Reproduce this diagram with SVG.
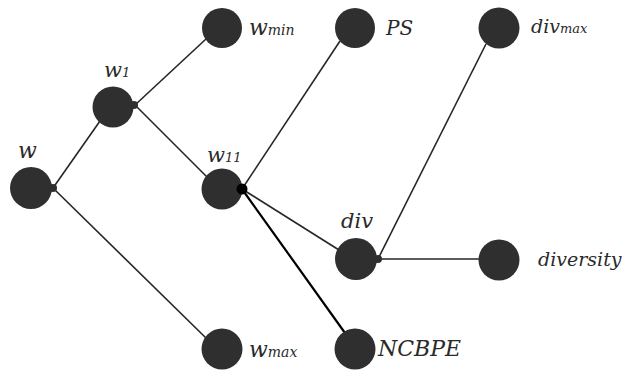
<svg xmlns="http://www.w3.org/2000/svg" width="634" height="371" viewBox="0 0 634 371">
  <style>
    .node { fill: #2f2f2f; }
    .port { fill: #2f2f2f; }
    .edge { stroke: #262626; stroke-width: 1.6; fill: none; }
    .edge.strong { stroke: #000; stroke-width: 2.2; }
    .lbl { font-family: "DejaVu Serif", "Liberation Serif", serif; font-style: italic; fill: #2a2a2a; }
  </style>
  <rect width="634" height="371" fill="#fff"/>

  <g id="connectors">
    <line class="edge" x1="53" y1="188" x2="100" y2="121"/>
    <line class="edge" x1="53" y1="188" x2="206" y2="338"/>
    <line class="edge" x1="135" y1="105" x2="206" y2="39"/>
    <line class="edge" x1="135" y1="105" x2="207" y2="177"/>
    <line class="edge" x1="242" y1="189" x2="340" y2="41"/>
    <line class="edge" x1="242" y1="189" x2="339" y2="250"/>
    <line class="edge strong" x1="242" y1="189" x2="345" y2="333"/>
    <line class="edge" x1="378" y1="259" x2="486" y2="44"/>
    <line class="edge" x1="378" y1="259" x2="480" y2="259"/>
  </g>

  <g id="node-w">
    <circle class="node" cx="31" cy="188" r="21"/>
    <circle class="port" cx="53" cy="188" r="4"/>
    <text class="lbl" x="18" y="158" font-size="22">w</text>
  </g>
  <g id="node-w1">
    <circle class="node" cx="113" cy="107" r="20.5"/>
    <circle class="port" cx="134" cy="105" r="4"/>
    <text class="lbl" x="104" y="77" font-size="21">w<tspan font-size="13">1</tspan></text>
  </g>
  <g id="node-wmin">
    <circle class="node" cx="222" cy="28" r="20"/>
    <text class="lbl" x="249" y="35" font-size="22">w<tspan font-size="14">min</tspan></text>
  </g>
  <g id="node-w11">
    <circle class="node" cx="222" cy="189" r="20.5"/>
    <circle cx="242" cy="189" r="5.5" fill="#000"/>
    <text class="lbl" x="207" y="162" font-size="21">w<tspan font-size="13">11</tspan></text>
  </g>
  <g id="node-wmax">
    <circle class="node" cx="222" cy="349" r="20.5"/>
    <text class="lbl" x="249" y="357" font-size="22">w<tspan font-size="14">max</tspan></text>
  </g>
  <g id="node-PS">
    <circle class="node" cx="355" cy="28" r="20"/>
    <text class="lbl" x="386" y="35" font-size="20">PS</text>
  </g>
  <g id="node-div">
    <circle class="node" cx="356" cy="259" r="21"/>
    <circle class="port" cx="378" cy="259" r="4"/>
    <text class="lbl" x="341" y="228" font-size="21">div</text>
  </g>
  <g id="node-NCBPE">
    <circle class="node" cx="355" cy="349" r="20.5"/>
    <text class="lbl" x="378" y="356" font-size="22">NCBPE</text>
  </g>
  <g id="node-divmax">
    <circle class="node" cx="499" cy="28" r="20.5"/>
    <text class="lbl" x="531" y="33" font-size="19">div<tspan font-size="13">max</tspan></text>
  </g>
  <g id="node-diversity">
    <circle class="node" cx="499" cy="260" r="20.5"/>
    <text class="lbl" x="538" y="266" font-size="19">diversity</text>
  </g>
</svg>
